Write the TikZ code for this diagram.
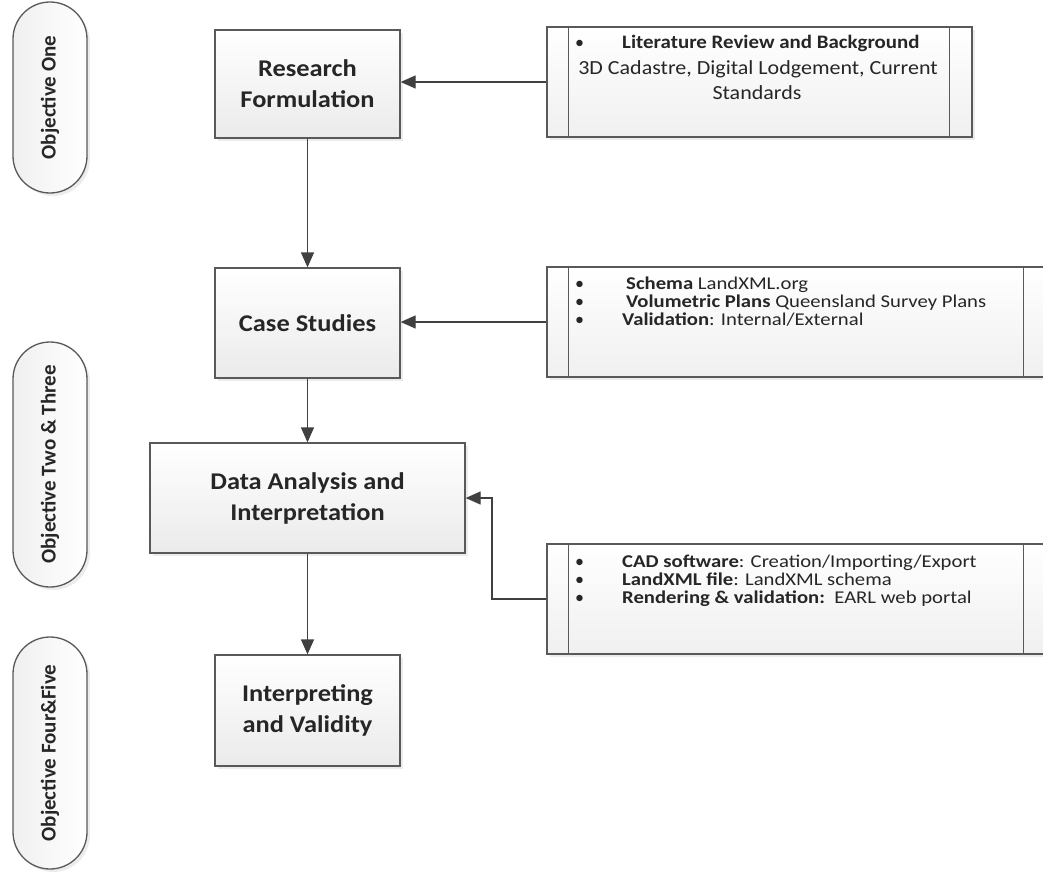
\documentclass[tikz,border=0pt]{standalone}
\usepackage{fontspec}
\setmainfont{Carlito}[FakeStretch=1.1]
\newfontfamily\plainfont{Carlito}
\newfontfamily\widefont{Carlito}[FakeStretch=1.15]
\usetikzlibrary{arrows.meta,shadows}

\begin{document}
\begin{tikzpicture}[x=1pt,y=-1pt,
    every node/.style={inner sep=0pt, text=black!85},
    stage/.style={draw=black!65, line width=1.3pt, top color=white, bottom color=black!8,
      drop shadow={shadow xshift=3pt, shadow yshift=-3pt, opacity=0.15},
      align=center, font=\fontsize{24}{31}\selectfont\bfseries},
    source/.style={draw=black!65, line width=1.3pt, top color=white, bottom color=black!6,
      drop shadow={shadow xshift=3pt, shadow yshift=-3pt, opacity=0.15},
      minimum height=110pt},
    frame/.style={draw=black!65, line width=1.3pt},
    objective/.style={draw=black!65, line width=1.3pt, rounded corners=37pt,
      left color=black!6, right color=white, rotate=90, minimum height=74pt,
      drop shadow={shadow xshift=3pt, shadow yshift=-3pt, opacity=0.15},
      font=\plainfont\fontsize{21}{24}\selectfont\bfseries},
    item/.style={anchor=base west, font=\widefont\fontsize{18}{18}\selectfont},
    itemc/.style={anchor=base, font=\fontsize{20}{20}\selectfont},
    dot/.style={anchor=base west, font=\plainfont\fontsize{18}{18}\selectfont},
    flow/.style={draw=black!75, line width=1.3pt, -{Triangle[length=15pt,width=13pt]}}
  ]
  \useasboundingbox (0,0) rectangle (1043,872);
  \clip (0,0) rectangle (1043,872);

  % objectives
  \node [objective, minimum width=191pt] (obj1) at (50,97.5) {Objective One};
  \node [objective, minimum width=245pt] (obj2) at (50,464.5) {Objective Two \& Three};
  \node [objective, minimum width=232pt] (obj3) at (50,753) {Objective Four\&Five};

  % main stages
  \node [stage, minimum width=185pt, minimum height=108pt] (rf) at (307.5,84) {Research\\Formulation};
  \node [stage, minimum width=185pt, minimum height=110pt] (cs) at (307.5,323) {Case Studies};
  \node [stage, minimum width=315pt, minimum height=110pt] (da) at (307.5,498) {Data Analysis and\\Interpretation};
  \node [stage, minimum width=185pt, minimum height=111pt] (iv) at (307.5,710.5) {Interpreting\\and Validity};

  % input boxes
  \node [source, minimum width=425pt] (lit) at (759.5,82) {};
  \node [source, minimum width=499pt] (sch) at (796.5,322) {};
  \node [source, minimum width=499pt] (cad) at (796.5,599) {};
  \foreach \b in {lit,sch,cad} {
    \draw [frame] ([xshift=22pt]\b.north west) -- ([xshift=22pt]\b.south west);
    \draw [frame] ([xshift=-23pt]\b.north east) -- ([xshift=-23pt]\b.south east);
  }

  \node [dot] (lit-b) at (575,49) {•};
  \node [item, font=\fontsize{19}{19}\selectfont\bfseries] (lit-t) at (622,49) {Literature Review and Background};
  \node [itemc] (lit-d1) at (758,75) {3D Cadastre, Digital Lodgement, Current};
  \node [itemc] (lit-d2) at (757,100) {Standards};

  \node [dot] (sch-b1) at (575,289) {•};
  \node [dot] (sch-b2) at (575,307) {•};
  \node [dot] (sch-b3) at (575,325) {•};
  \node [item] (sch-t1) at (626,289) {\textbf{Schema} LandXML.org};
  \node [item] (sch-t2) at (626,307) {\textbf{Volumetric Plans} Queensland Survey Plans};
  \node [item] (sch-t3) at (622,325) {\textbf{Validation}: Internal/External};

  \node [dot] (cad-b1) at (575,567) {•};
  \node [dot] (cad-b2) at (575,585) {•};
  \node [dot] (cad-b3) at (575,603) {•};
  \node [item] (cad-t1) at (622,567) {\textbf{CAD software}: Creation/Importing/Export};
  \node [item] (cad-t2) at (622,585) {\textbf{LandXML file}: LandXML schema};
  \node [item] (cad-t3) at (622,603) {\textbf{Rendering \& validation:}\ \ EARL web portal};

  % connectors
  \draw [flow] (rf) -- (cs);
  \draw [flow] (cs) -- (da);
  \draw [flow] (da) -- (iv);
  \draw [flow] (lit.west) -- (lit.west -| rf.east);
  \draw [flow] (sch.west) -- (sch.west -| cs.east);
  \coordinate (turn) at (492,599);
  \draw [flow] (cad.west) -- (turn) |- (da.east);
\end{tikzpicture}
\end{document}
